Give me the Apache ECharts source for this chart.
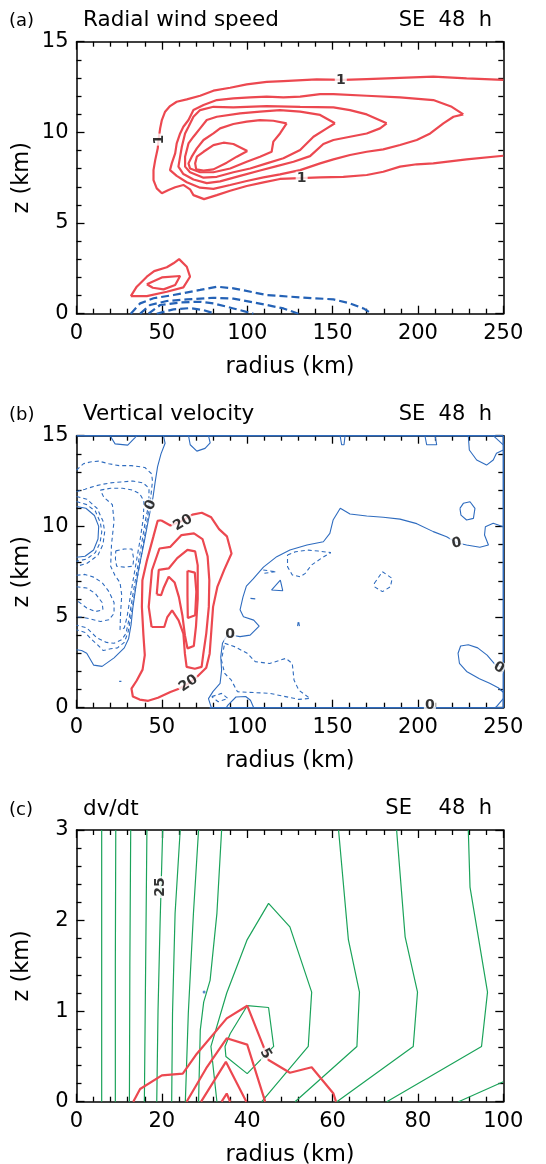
<!DOCTYPE html>
<html><head><meta charset="utf-8">
<script src="https://cdn.jsdelivr.net/npm/echarts@6/dist/echarts.min.js"></script>
<style>html,body{margin:0;padding:0;background:#fff;}#c{width:546px;height:1164px;}</style>
</head><body><div id="c"></div>
<script>
// ---------------- Panel (a): radial wind speed ----------------
const aPos1 = [[250,12.89],[228.5,12.98],[209,13.07],[189.5,13.01],[170,12.94],[156.3,12.89],[140.7,12.92],[121.2,12.83],[111.4,12.78],[99.7,12.65],[90,12.46],[80.2,12.3],[72.4,12.02],[64.6,11.82],[58.7,11.69],[54.8,11.45],[51.9,11.14],[50,10.68],[49,10.22],[48.6,9.94],[48,9.58],[47.6,9.12],[46.1,8.47],[45.1,7.92],[45.1,7.37],[47,6.91],[50,6.64],[53.9,6.82],[57.8,6.97],[62.6,7.1],[66.5,6.86],[68.5,6.54],[74.7,6.32],[82.2,6.54],[90,6.78],[99.7,7.04],[109.5,7.24],[119.2,7.43],[127.1,7.46],[142.7,7.52],[156.3,7.55],[170,7.65],[179.7,7.83],[189.5,8.11],[199.3,8.24],[209,8.29],[228.5,8.51],[250,8.71]];
const aPos2 = [[226.6,10.99],[219.8,11.41],[209,11.78],[189.5,11.93],[170,12.02],[150.5,12.11],[142.7,12.11],[131,11.97],[121.2,11.93],[111.4,11.97],[101.7,11.93],[91.9,11.87],[82.2,11.78],[74.4,11.51],[68.5,11.23],[65.6,10.68],[62.6,10.31],[60.7,9.94],[58.7,9.39],[57.8,8.84],[55.8,8.29],[54.8,7.92],[58.7,7.6],[64.6,7.25],[72.4,6.95],[80.2,6.88],[90,7.1],[99.7,7.32],[109.5,7.52],[119.2,7.68],[131,7.92],[142.7,8.29],[150.5,8.51],[160.2,8.75],[170,8.93],[179.7,9.06],[189.5,9.3],[199.3,9.58],[207.2,9.94],[214.9,10.5],[220.8,10.86],[226.6,10.99]];
const aPos3 = [[181.7,10.5],[170,10.99],[160.2,11.23],[150.5,11.38],[131,11.41],[111.4,11.45],[91.9,11.38],[80.2,11.41],[72.4,11.23],[68.5,10.86],[65.6,10.31],[63.6,9.94],[61.7,9.21],[60.7,8.66],[59.7,8.11],[62.6,7.7],[68.5,7.4],[76.3,7.2],[84.1,7.3],[95.8,7.6],[107.5,7.9],[117.3,8.14],[127.1,8.38],[136.8,8.69],[144.6,9.36],[150.5,9.58],[160.2,9.76],[170,9.94],[177.8,10.22],[181.7,10.5]];
const aPos4 = [[151.4,10.5],[142.7,10.96],[131,11.14],[119.2,11.23],[107.5,11.14],[95.8,11.05],[82.2,10.86],[76.3,10.68],[72.4,10.22],[68.5,9.76],[65.6,9.39],[63.6,8.66],[63.6,8.11],[66.5,7.8],[74.4,7.5],[82.2,7.55],[91.9,7.8],[101.7,8.01],[111.4,8.29],[121.2,8.57],[131,9.03],[138.8,9.76],[146.6,10.22],[151.4,10.5]];
const aPos5 = [[123.1,10.5],[115.3,10.64],[107.5,10.68],[99.7,10.59],[91.9,10.46],[84.1,10.22],[80.2,9.94],[74.4,9.58],[70.5,9.12],[67.5,8.66],[65.6,8.29],[66.5,8.01],[72.4,7.8],[80.2,7.8],[90,8.01],[99.7,8.38],[107.5,8.66],[114.3,8.93],[115.3,9.49],[119.2,9.94],[123.1,10.5]];
const aPos6 = [[100.1,8.97],[91.9,9.36],[86.1,9.43],[80.2,9.3],[74.4,8.93],[70.5,8.66],[69.5,8.29],[70.1,7.96],[74.4,7.89],[80.2,7.96],[88,8.33],[93.9,8.66],[100.1,8.97]];
const aLow1 = [[31.8,0.97],[35.3,1.49],[41.2,2.04],[45.5,2.35],[52.9,2.56],[56.8,2.78],[60.1,3.01],[64.6,2.59],[66.5,2.04],[62.6,1.45],[52.9,1.21],[41.2,0.97],[31.8,0.97]];
const aLow2 = [[41.2,1.62],[50,2.0],[60.7,2.08],[57.8,1.58],[51,1.34],[44.7,1.43],[41.2,1.62]];
const aNeg1 = [[31.8,0],[37.3,0.57],[45.1,0.85],[56.8,1.03],[72.4,1.31],[82.2,1.49],[91.9,1.4],[111.4,1.03],[131,0.9],[150.5,0.79],[160.2,0.57],[168.1,0.29],[172.9,0]];
const aNeg2 = [[37.3,0],[43.1,0.48],[52.9,0.7],[64.6,0.79],[80.2,0.88],[91.9,0.83],[111.4,0.48],[121.2,0.29],[130,0]];
const aNeg3 = [[42.2,0],[49,0.48],[60.7,0.62],[72.4,0.66],[80.2,0.57],[91.9,0.29],[103.6,0]];
const aNeg4 = [[47,0],[56.8,0.24],[66.5,0.31],[74.4,0.2],[81.2,0]];
const aLabels = [[154.8,12.89,'1',0],[48.4,9.6,'1',90],[131.9,7.46,'1',0]];

// ---------------- Panel (b): vertical velocity ----------------
const bPos1 = [[49.5,10.34],[55,10.05],[61.5,10.3],[67.9,10.65],[73.4,10.75],[78.9,10.5],[83.5,9.85],[88.1,9.45],[90.8,8.5],[86.5,7.6],[82.5,6.66],[80,5.56],[79,4.27],[78,2.98],[76,2.2],[70.5,1.69],[65,1.3],[60,1.05],[55,0.87],[47.7,0.55],[42,0.38],[37,0.45],[33,0.62],[32.2,1.05],[35.3,1.5],[38.7,2.1],[40,2.9],[39.2,4.0],[38.3,5.56],[38.6,7.03],[41.3,8.14],[45,9.42],[47.5,10.3],[49.5,10.34]];
const bPos2 = [[44,4.45],[42.3,5.56],[44.2,7.58],[48.6,8.78],[55,8.87],[61.5,9.52],[68.8,9.61],[73.8,9.3],[76.8,8.35],[77.8,7.03],[77.5,5.56],[76,4.09],[74.3,2.98],[73.3,2.25],[69.3,2.15],[64.5,2.25],[63.5,2.98],[62.6,4.09],[59.8,4.82],[56,5.37],[53.2,5.0],[51.4,4.45],[44,4.45]];
const bPos3 = [[47,6.25],[48.2,7.6],[54,7.68],[59,8.25],[65,8.7],[69.5,8.62],[71,7.85],[71,6.0],[70,4.5],[68.7,3.4],[65,3.27],[63.5,4.0],[62,5.1],[60,6.1],[57.5,6.9],[54,7.22],[51,6.6],[49.5,6.2],[47,6.25]];
const bPos4 = [[65,7.55],[69.3,7.45],[70.2,6.4],[69.5,5.1],[65.2,4.95],[65,6.2],[65,7.55]];
const bZero1 = [[50.9,15],[51.9,14.58],[49.5,14.0],[47.5,13.29],[46,12.4],[44.8,11.6],[43.5,11.0],[41.8,10.2],[40,9.3],[38.3,8.5],[36.3,7.6],[34.5,6.5],[33,5.5],[32,4.6],[30.5,3.8],[28,3.3],[22,2.75],[15,2.28],[10,2.35],[6,3.0],[3,3.15],[0,3.2]];
const bZero2 = [[0,11.1],[5.5,11.0],[10.5,10.6],[13,10.0],[12.6,9.3],[10,8.7],[5,8.35],[0,8.3]];
const bZero3 = [[19.7,15],[22.6,14.55],[30,14.48],[34.3,14.9],[35.3,15]];
const bZero4 = [[65.6,15],[66.6,14.5],[70.5,14.15],[75.3,14.3],[78.3,14.6],[77.3,15]];
const bZero5 = [[154.4,15],[155.3,14.5],[156.7,14.5],[157.3,15]];
const bZero6 = [[204.1,15],[205.1,14.5],[211,14.5],[210,15]];
const bZero7 = [[229.5,15],[230.1,14.21],[234.4,13.66],[240.2,13.38],[244.1,13.66],[246,14.03],[250,14.21]];
const bZero8 = [[244.1,15],[250,14.49]];
const bZero9 = [[224.6,10.99],[226.6,11.27],[230.5,11.36],[233.4,10.99],[232.5,10.44],[228.5,10.35],[225.2,10.62],[224.6,10.99]];
const bZero10 = [[79,0],[77.3,0.5],[80,0.9],[84.1,1.34],[85,2.08],[84.5,2.8],[85.5,3.55],[88,3.95],[91,4.0],[95.8,3.92],[101.7,4.0],[107,4.5],[103.8,4.83],[97.8,5.02],[95.8,5.4],[97.5,6.1],[99.5,6.7],[103.5,7.1],[109.5,7.75],[117.3,8.33],[125,8.7],[135,8.97],[144.6,9.15],[148.4,9.61],[150.3,10.35],[154.5,11.0],[160.2,10.68],[170,10.57],[179.7,10.5],[189.5,10.4],[199.3,10.15],[209,9.71],[216.8,9.43],[222.7,9.1],[228.5,8.97],[236.3,8.85],[241.3,8.97],[239,9.52],[239.5,9.98],[244.1,10.17],[250,9.98]];
const bZero11 = [[87.7,0],[88.7,0.14],[93.4,0.59],[99.1,0.62],[101.9,0.41],[103.8,0]];
const bZero12 = [[250,2.2],[245,2.4],[240.5,2.9],[235,3.3],[229.5,3.47],[225,3.4],[223.5,3.0],[224.3,2.45],[228.5,2.0],[236,1.6],[242,1.35],[247,1.1],[250,0.85]];
const bZero13 = [[245.5,0],[250,0.5]];
const bZero14 = [[114.2,6.49],[119.4,7.04],[120.8,6.45],[114.2,6.49]];
const bZero15 = [[101.9,6.03],[104.7,6.0]];
const bZero16 = [[25,1.45],[25.8,1.55],[26.3,1.45],[25.6,1.38],[25,1.45]];
const bEdgeTop = [[0,15],[250,15]];
const bEdgeRight = [[250,0],[250,15]];
const bEdgeBottom = [[78,0],[250,0]];
const bNeg1 = [[0,13.1],[4,13.45],[8,13.55],[13,13.6],[19,13.45],[25,13.35],[32,13.35],[40,13.25],[44,12.9],[44.5,12.5],[43.5,11.6],[41.8,10.6],[39.8,9.4],[37.8,8.3],[35.5,7.1],[33.5,6.0],[31.8,5.0],[30.3,4.2],[28,3.6],[24,3.3],[20,3.25],[15.7,3.15],[12,3.5],[9,3.75],[5,4.15],[0,4.3]];
const bNeg2 = [[0,11.92],[5,12.05],[10,12.2],[14,12.3],[20,12.4],[26,12.45],[33,12.5],[39,12.4],[42.5,12.1],[42.3,11.2],[40.5,10.4],[38.8,9.4],[36.8,8.3],[34.6,7.1],[32.6,6.0],[30.8,4.9],[29,4.1],[26.5,3.75],[22,3.55],[17.5,3.6],[12,3.85],[6,4.4],[0,4.55]];
const bNeg3 = [[14,12.0],[20,12.1],[27,12.1],[33,12.0],[37,11.8],[39.5,11.4],[39.2,10.5],[37.5,9.4],[35.5,8.3],[33.3,7.1],[31.3,6.0],[29.6,5.0],[28,4.4],[25.5,4.3],[25.8,5.2],[26.5,6.2],[25.5,6.9],[22.5,7.3],[20,7.8],[20.5,9.0],[22,10.3],[21,11.2],[16,11.6],[14,12.0]];
const bNeg4 = [[0,11.37],[6,11.2],[11,10.85],[14,10.2],[14.8,9.7],[13.8,9.1],[11,8.55],[6,8.2],[0,8.07]];
const bNeg5 = [[0,11.65],[6,11.5],[12,11.0],[15.5,10.3],[16.5,9.7],[15.5,9.0],[12.5,8.4],[6,7.95],[0,7.8]];
const bNeg6 = [[0,7.3],[5,7.35],[10,7.2],[15,6.9],[19,6.4],[22,5.8],[22,5.2],[19,4.85],[14,4.75],[8,4.9],[3,5.0],[0,5.0]];
const bNeg7 = [[0,6.67],[6,6.6],[11,6.3],[15,5.8],[15.5,5.4],[11,5.3],[6,5.5],[0,5.93]];
const bNeg8 = [[23,8.65],[28,8.75],[32.5,8.75],[33.5,8.2],[33,7.8],[28,7.75],[23.5,7.8],[22.8,8.2],[23,8.65]];
const bNegR1 = [[123.6,8.42],[128.3,8.6],[135.8,8.69],[141.5,8.64],[149,8.55],[143.4,8.24],[137.7,7.87],[134,7.41],[131.1,7.22],[126.4,7.32],[123.6,7.78],[123.6,8.42]];
const bNegR2 = [[174.5,6.86],[179.2,7.5],[184.9,7.13],[183.9,6.67],[179.2,6.4],[174.5,6.67],[174.5,6.86]];
const bNegR3 = [[86.8,3.55],[93,3.35],[100,3.0],[104.7,2.54],[113.2,2.44],[122.6,2.72],[126.4,2.44],[127.4,1.53],[130.2,0.97],[136.8,0.51],[130.2,0.46],[113.2,0.79],[94.3,0.88],[90.6,1.53],[86.8,1.89],[84.9,2.63],[86.8,3.55]];
const bNegR4 = [[79.2,0.61],[84.9,0.79],[88.7,0.51],[83,0.33],[79.2,0.61]];
const bNegR5 = [[109.4,7.59],[117,7.5],[109.4,7.41]];
const bNegR6 = [[129.5,4.5],[130,4.8],[130.6,4.5]];
const bLabels = [[43.5,11.18,'0',70],[62.3,10.2,'20',30],[65.6,1.34,'20',35],[90,4.05,'0',0],[222.7,9.06,'0',10],[247.3,2.2,'0',-30],[207,0.15,'0',0]];

// ---------------- Panel (c): dv/dt ----------------
const cG1 = [[5.9,3],[5.9,0]];
const cG2 = [[9.2,3],[9.1,1.5],[9.1,0]];
const cG3 = [[12.7,3],[12.5,1.5],[12.4,0]];
const cG4 = [[16.5,3],[16.2,1.5],[15.9,0]];
const cG5 = [[20.2,3],[19.6,2.0],[19.1,1.0],[18.8,0]];
const cG6 = [[24.3,3],[23.1,2.08],[22.5,0.98],[22.3,0]];
const cG7 = [[28.6,3],[27.4,2.08],[26.2,0.98],[25.5,0]];
const cG8 = [[34,3],[32.9,2.08],[31.3,1.34],[29.8,1.1],[29,0.79],[28.6,0]];
const cG9 = [[32.9,0],[31.5,0.61],[35.2,1.2],[40,1.79],[45,2.19],[50,1.93],[55.1,1.21],[54.3,0.61],[43.4,0]];
const cG10 = [[40,1.06],[45,1.04],[46.2,0.61],[40,0.31],[35,0.5],[34.8,0.61],[36,0.75],[40,1.06]];
const cG11 = [[61.4,3],[63.7,1.79],[66.3,1.21],[65.7,0.61],[51.2,0]];
const cG12 = [[75,3],[77,1.82],[79.9,1.21],[78.9,0.61],[61,0]];
const cG13 = [[91.8,3],[92.2,2.37],[96.3,1.21],[94.9,0.61],[72.7,0]];
const cG14 = [[89.5,0],[100,0.22]];
const cR1 = [[13.3,0],[14.9,0.14],[20,0.29],[24.9,0.31],[28.2,0.53],[35.2,0.92],[40,1.06],[43.8,0.61],[45,0.46],[50,0.32],[55.1,0.38],[60.2,0.09],[60.8,0]];
const cR2 = [[25.8,0],[30.4,0.37],[35.2,0.7],[40,0.63],[44.2,0]];
const cR3 = [[29.2,0],[35,0.44],[39.8,0]];
const cR4 = [[34,0],[35.2,0.09],[36,0]];
const cDot = [[29.9,1.21]];
const cLabels = [[19.6,2.37,'25',90],[44.3,0.53,'5',-60]];

// tick settings
const xMaxAB = 250, xStepAB = 50, yMaxAB = 15, yStepAB = 5;
const xMaxC = 100, xStepC = 20, yMaxC = 3, yStepC = 1;

// ---------------- styles ----------------
const RED = '#ec4850', BLUE_A = '#2462b6', BLUE_B = '#2f6cbf', GREEN = '#1ba35a';
const FONT = '"DejaVu Sans", "Liberation Sans", sans-serif';

const grids = [
  {left:76.5, top:41.7, width:426.8, height:272},
  {left:76.5, top:435.7, width:426.8, height:272},
  {left:76.5, top:830, width:426.8, height:271.7}
];

function axisPair(dim, gi, max, interval) {
  const common = {
    type:'value', gridIndex:gi, min:0, max:max, interval:interval,
    axisLine:{show:true, onZero:false, lineStyle:{color:'#000', width:1.5}},
    axisTick:{show:true, inside:true, length:8, lineStyle:{color:'#000', width:1.3}},
    minorTick:{show:true, splitNumber:5, length:5, lineStyle:{color:'#000', width:1.3}},
    splitLine:{show:false}, minorSplitLine:{show:false}
  };
  const main = Object.assign({}, common, {
    position: dim === 'x' ? 'bottom' : 'left',
    axisLabel:{show:true, color:'#000', fontSize:21, fontFamily:FONT, margin: dim === 'x' ? 9 : 8}
  });
  const other = Object.assign({}, common, {
    position: dim === 'x' ? 'top' : 'right',
    axisLabel:{show:false}
  });
  return [main, other];
}

const xAxes = [].concat(axisPair('x',0,xMaxAB,xStepAB), axisPair('x',1,xMaxAB,xStepAB), axisPair('x',2,xMaxC,xStepC));
const yAxes = [].concat(axisPair('y',0,yMaxAB,yStepAB), axisPair('y',1,yMaxAB,yStepAB), axisPair('y',2,yMaxC,yStepC));

function line(data, gi, color, width, dash, clip) {
  return {type:'line', data:data, xAxisIndex:2*gi, yAxisIndex:2*gi, showSymbol:false, symbol:'none',
    lineStyle:{color:color, width:width, type: dash || 'solid'}, silent:true, animation:false, z:3,
    clip: clip === false ? false : true};
}
function labels(list, gi) {
  return {type:'scatter', xAxisIndex:2*gi, yAxisIndex:2*gi, silent:true, animation:false, z:6, clip:false,
    data: list.map(function(p){
      const w = p[2].length * 10 + 2;
      return {value:[p[0],p[1]], symbol:'rect', symbolSize:[w,14], symbolRotate:p[3],
        itemStyle:{color:'#fff'},
        label:{show:true, position:'inside', formatter:p[2], rotate:p[3], color:'#000',
          fontSize:14, fontWeight:'bold', fontFamily:FONT}};
    })
  };
}

const series = [];
[aPos1,aPos2,aPos3,aPos4,aPos5,aPos6,aLow1,aLow2].forEach(d => series.push(line(d,0,RED,2.2)));
[aNeg1,aNeg2,aNeg3,aNeg4].forEach(d => series.push(line(d,0,BLUE_A,2.2,[8,4])));
series.push(labels(aLabels,0));
[bEdgeTop,bEdgeRight,bEdgeBottom].forEach(d => series.push(line(d,1,BLUE_B,1.5,null,false)));
[bZero1,bZero2,bZero3,bZero4,bZero5,bZero6,bZero7,bZero8,bZero9,bZero10,bZero11,bZero12,bZero13,bZero14,bZero15,bZero16].forEach(d => series.push(line(d,1,BLUE_B,1.1)));
[bNeg1,bNeg2,bNeg3,bNeg4,bNeg5,bNeg6,bNeg7,bNeg8,bNegR1,bNegR2,bNegR3,bNegR4,bNegR5,bNegR6].forEach(d => series.push(line(d,1,BLUE_B,1.1,[4,3])));
[bPos1,bPos2,bPos3,bPos4].forEach(d => series.push(line(d,1,RED,2.2)));
series.push(labels(bLabels,1));
[cG1,cG2,cG3,cG4,cG5,cG6,cG7,cG8,cG9,cG10,cG11,cG12,cG13,cG14].forEach(d => series.push(line(d,2,GREEN,1.2)));
[cR1,cR2,cR3,cR4].forEach(d => series.push(line(d,2,RED,2.2)));
series.push({type:'scatter', xAxisIndex:4, yAxisIndex:4, data:cDot, symbolSize:3, itemStyle:{color:BLUE_B}, silent:true, animation:false, z:4});
series.push(labels(cLabels,2));

function txt(x, y, s, size, align, rot) {
  return {type:'text', x:x, y:y, rotation: rot || 0, silent:true, z:10,
    style:{text:s, fill:'#000', font: size + 'px ' + FONT, align:align, verticalAlign:'middle',
      textAlign:align, textVerticalAlign:'middle'}};
}
const panelTops = [41.7, 435.7, 830];
const panelHeights = [272, 272, 271.7];
const tags = ['(a)','(b)','(c)'];
const titles = ['Radial wind speed','Vertical velocity','dv/dt'];
const rightTitles = ['SE  48  h','SE  48  h','SE    48  h'];
const graphics = [];
for (let i = 0; i < 3; i++) {
  const t = panelTops[i];
  graphics.push(txt(9, t - 20, tags[i], 18, 'left'));
  graphics.push(txt(83, t - 21, titles[i], 21.5, 'left'));
  graphics.push(txt(492, t - 21, rightTitles[i], 21, 'right'));
  graphics.push(txt(290, t + panelHeights[i] + 53, 'radius (km)', 22.5, 'center'));
  graphics.push(txt(22, t + panelHeights[i]/2, 'z (km)', 22.5, 'center', Math.PI/2));
}

const chart = echarts.init(document.getElementById('c'), null, {renderer:'canvas'});
chart.setOption({
  animation:false,
  backgroundColor:'#fff',
  grid: grids,
  xAxis: xAxes,
  yAxis: yAxes,
  series: series,
  graphic: graphics
});
</script></body></html>
